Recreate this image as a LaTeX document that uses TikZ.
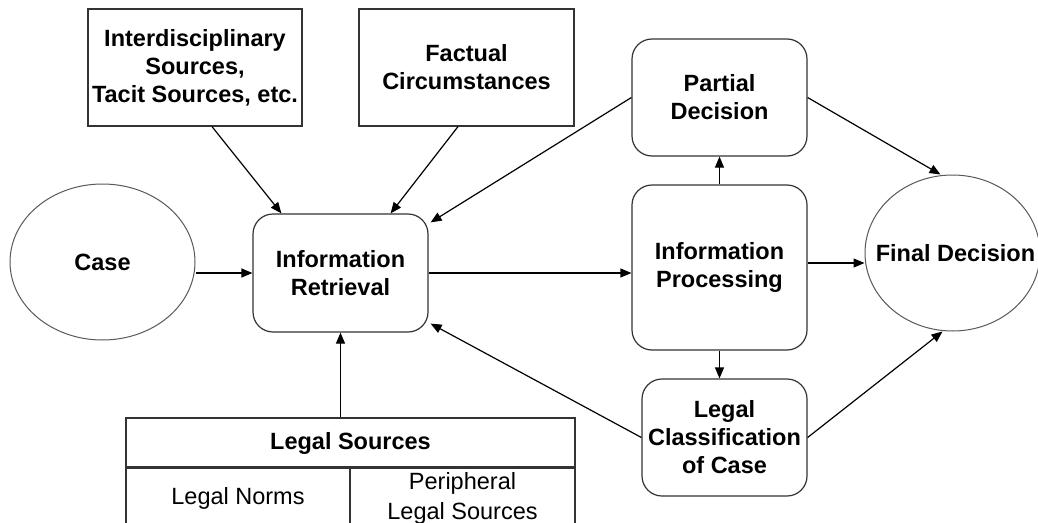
\documentclass[tikz,border=0pt]{standalone}
\usepackage{fontspec}
\setmainfont{Liberation Sans}
\usetikzlibrary{arrows.meta,calc,shapes.geometric}
\begin{document}
\begin{tikzpicture}[x=1pt,y=-1pt,
  box/.style={draw=black!80,line width=1.2pt,align=center,inner sep=0pt,font=\fontsize{23.5}{28}\selectfont\bfseries},
  rbox/.style={box,rounded corners=20pt},
  ell/.style={draw=black!65,line width=1pt,ellipse,inner sep=0pt},
  txt/.style={inner sep=0pt,font=\fontsize{23.5}{28}\selectfont\bfseries},
  cell/.style={draw=black!80,line width=1.2pt,align=center,inner sep=0pt,font=\fontsize{23.5}{30}\selectfont},
  arr/.style={draw=black,line width=1.2pt,-{Triangle[length=11pt,width=9pt]}},
]
\useasboundingbox (0,0) rectangle (1038,522);
\fill[white] (0,0) rectangle (1038,522);

% nodes
\node[ell,minimum width=185pt,minimum height=156pt] (case) at (102.5,262) {};
\node[txt] (caset) at (case) {Case};
\node[box,minimum width=214pt,minimum height=117pt] (inter) at (195,67.5) {Interdisciplinary\\Sources,\\Tacit Sources, etc.};
\node[box,minimum width=215pt,minimum height=117pt] (fact) at (466.5,67.5) {Factual\\Circumstances};
\node[rbox,minimum width=175pt,minimum height=118pt] (ir) at (340.5,273) {Information\\Retrieval};
\node[rbox,minimum width=175pt,minimum height=117pt] (pd) at (719.5,97.5) {Partial\\Decision};
\node[rbox,minimum width=175pt,minimum height=165pt] (ip) at (719.5,267.5) {Information\\Processing};
\node[rbox,minimum width=165pt,minimum height=117pt] (lc) at (724.5,437.5) {Legal\\Classification\\of Case};
\node[ell,minimum width=175pt,minimum height=156pt] (fd) at (952.5,253) {};
\node[txt] (fdt) at ($(fd)+(3,0)$) {Final Decision};

% legal sources table
\node[cell,font=\fontsize{23.5}{28}\selectfont\bfseries,minimum width=449pt,minimum height=50pt] (ls) at (350.5,443) {Legal Sources};
\node[cell,minimum width=224pt,minimum height=62pt] (ln) at (238,498) {Legal Norms};
\node[cell,minimum width=225pt,minimum height=62pt] (pls) at (462.5,498) {Peripheral\\Legal Sources};

% connectors
\draw[arr] (case.east |- ir.west) -- (ir.west);
\draw[arr] ($(inter.south)+(17,0)$) -- ($(ir.north west)+(29,0)$);
\draw[arr] ($(fact.south)+(-8.5,0)$) -- ($(ir.north east)+(-38,0)$);
\draw[arr] (pd.west) -- ($(ir.north east)+(2,9)$);
\draw[arr] (lc.west) -- ($(ir.south east)+(2,-9)$);
\draw[arr] (ir.south |- ls.north) -- (ir.south);
\draw[arr] (ir.east) -- (ip.west |- ir.east);
\draw[arr] (ip.north) -- (pd.south);
\draw[arr] (ip.south) -- (lc.north -| ip.south);
\coordinate (ipr) at ($(ip.east)+(0,-4.5)$);
\draw[arr] (ipr) -- (fd.west |- ipr);
\draw[arr] (pd.east) -- ($(fd.north)+(-12,0)$);
\draw[arr] (lc.east) -- ($(fd.south)+(-10,0)$);
\end{tikzpicture}
\end{document}
